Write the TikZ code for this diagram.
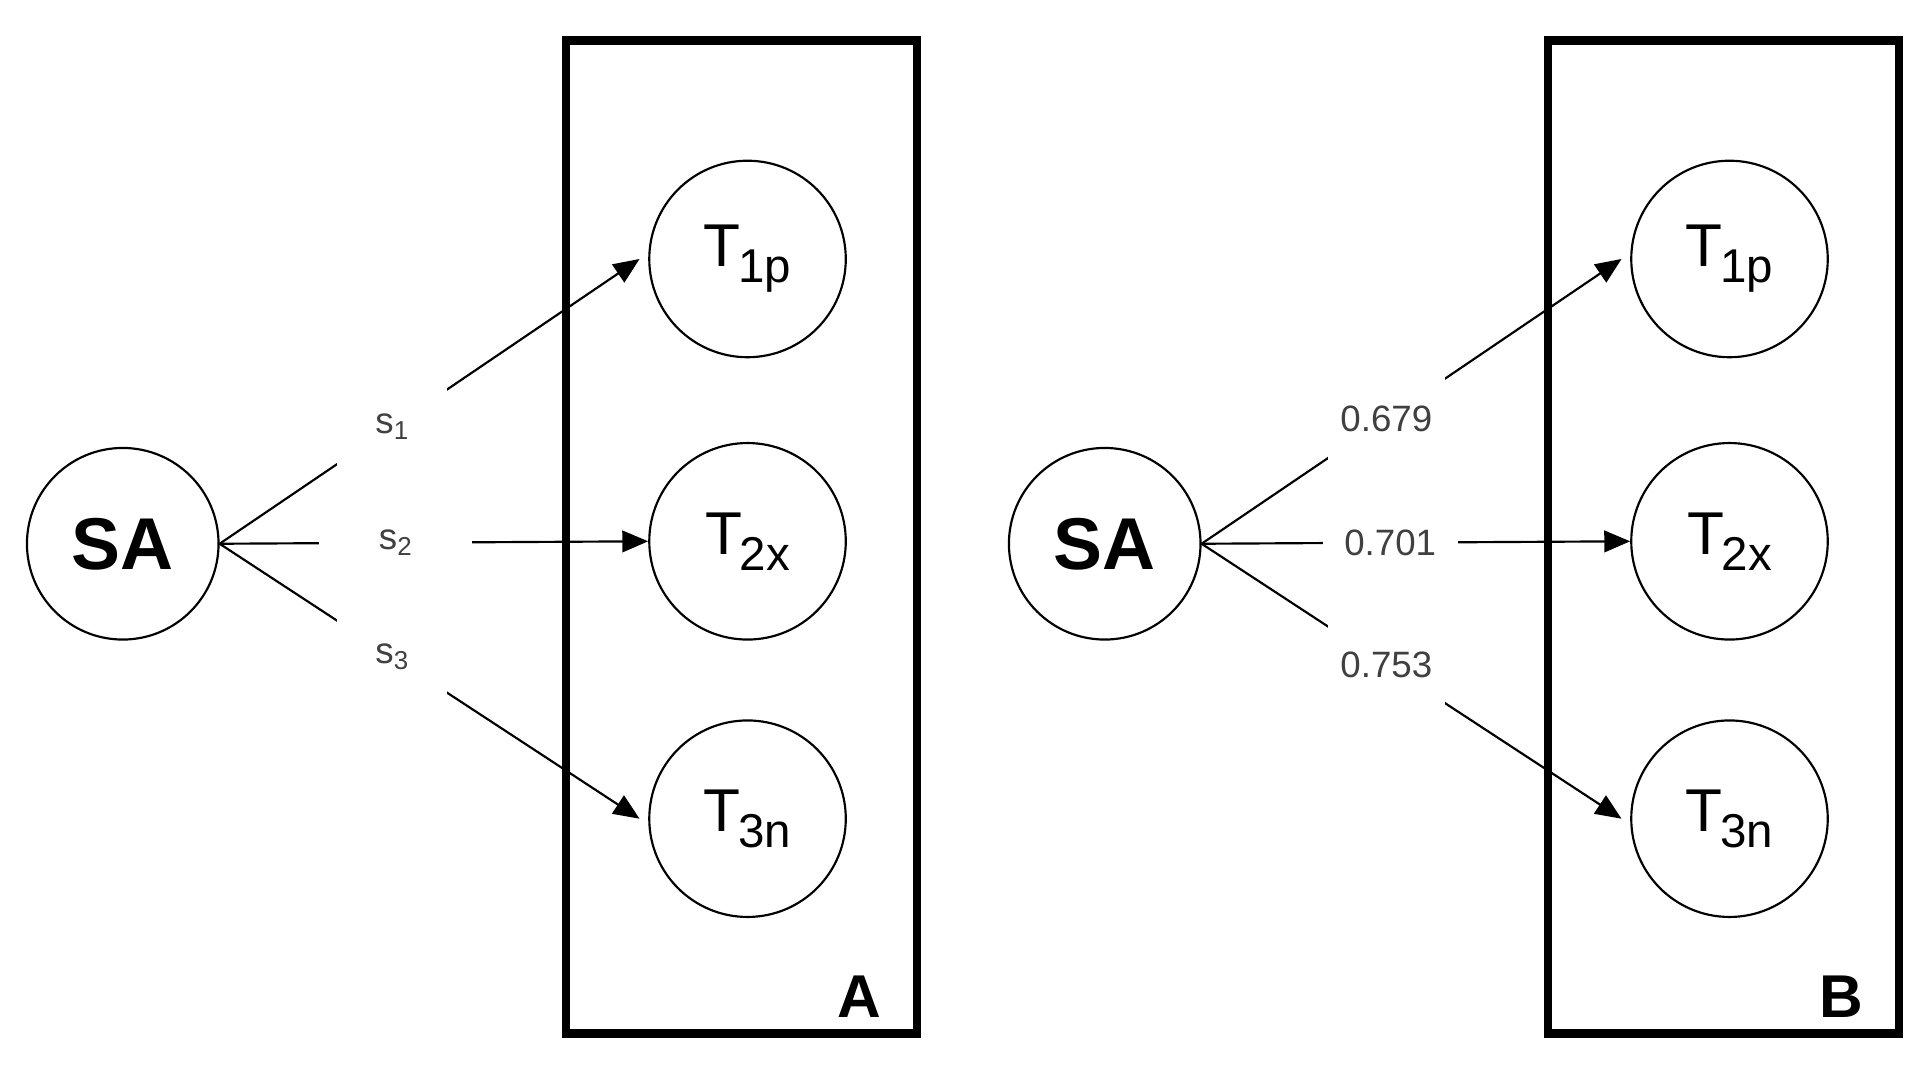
\documentclass[tikz,border=0pt]{standalone}
\usepackage{fontspec}
\setmainfont{Liberation Sans}
\usetikzlibrary{arrows.meta}
\begin{document}
\begin{tikzpicture}[x=0.01cm,y=-0.01cm,
  sa/.style={circle,draw,line width=0.5pt,minimum size=1.56cm,inner sep=0pt,font=\fontsize{17}{20}\selectfont\bfseries},
  tn/.style={circle,draw,line width=0.5pt,minimum size=1.6cm,inner sep=0pt,font=\fontsize{14}{16}\selectfont},
  box/.style={draw,line width=2pt},
  arr/.style={line width=0.5pt,-{Triangle[length=6pt,width=5pt]}},
  lab/.style={fill=white,font=\fontsize{8.5}{10}\selectfont,inner xsep=9pt,inner ysep=7pt,text=black!75},
  panel/.style={font=\fontsize{14}{16}\selectfont\bfseries}]
\useasboundingbox (0,0) rectangle (1565,868);
\newcommand{\sub}[1]{\raisebox{-0.5ex}{\fontsize{11}{12}\selectfont #1}}
\newcommand{\ssub}[1]{\raisebox{-0.3ex}{\fontsize{6}{7}\selectfont #1}}
% Panel A
\draw[box] (461,33) rectangle (747,842);
\node[panel] (pA) at (700,812) {A};
\node[sa] (saA) at (100,443) {SA};
\node[tn] (a1) at (609,211) {T\kern-0.5pt\sub{1p}};
\node[tn] (a2) at (609,441) {T\kern-0.5pt\sub{2x}};
\node[tn] (a3) at (609,667) {T\kern-0.5pt\sub{3n}};
\draw[arr] (saA.east) -- node[lab,pos=0.41] (s1) {s\ssub{1}} ([xshift=-2pt]a1.west);
\draw[arr] (saA.east) -- node[lab,pos=0.41,inner xsep=14pt] (s2) {s\ssub{2}} (a2.west);
\draw[arr] (saA.east) -- node[lab,pos=0.41] (s3) {s\ssub{3}} ([xshift=-2pt]a3.west);
% Panel B
\draw[box] (1261,33) rectangle (1547,842);
\node[panel] (pB) at (1500,812) {B};
\node[sa] (saB) at (900,443) {SA};
\node[tn] (b1) at (1409,211) {T\kern-0.5pt\sub{1p}};
\node[tn] (b2) at (1409,441) {T\kern-0.5pt\sub{2x}};
\node[tn] (b3) at (1409,667) {T\kern-0.5pt\sub{3n}};
\draw[arr] (saB.east) -- node[lab,pos=0.44,inner xsep=3pt] (v1) {0.679} ([xshift=-2pt]b1.west);
\draw[arr] (saB.east) -- node[lab,pos=0.44,inner xsep=5pt] (v2) {0.701} (b2.west);
\draw[arr] (saB.east) -- node[lab,pos=0.44,inner xsep=3pt] (v3) {0.753} ([xshift=-2pt]b3.west);
\end{tikzpicture}
\end{document}
